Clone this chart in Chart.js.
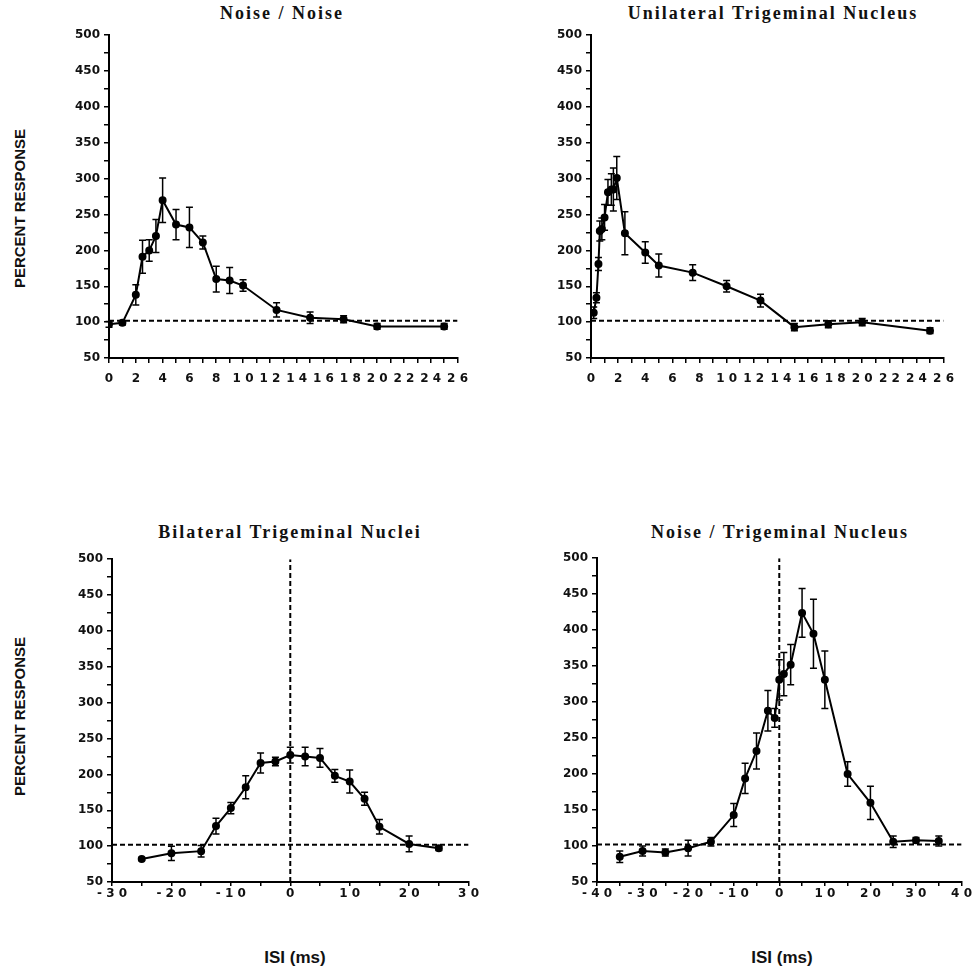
<!DOCTYPE html>
<html>
<head>
<meta charset="utf-8">
<script src="https://cdn.jsdelivr.net/npm/chart.js@4.4.1/dist/chart.umd.min.js"></script>
<style>
  body { margin: 0; background: #fff; width: 973px; height: 975px; overflow: hidden; position: relative; }
  canvas { position: absolute; }
  .ttl { position: absolute; width: 460px; text-align: center; font: bold 18px "Liberation Serif", serif; letter-spacing: 2px; color: #111; }
  .ylab { position: absolute; width: 200px; text-align: center; font: bold 15px "Liberation Sans", Arial, sans-serif; color: #111;
          transform: rotate(-90deg); transform-origin: center center; }
  .xlab { position: absolute; width: 200px; text-align: center; font: bold 17px "Liberation Sans", Arial, sans-serif; color: #111; }
</style>
</head>
<body>

<div class="ttl" style="left:52px;top:3px">Noise / Noise</div>
<div class="ttl" style="left:543px;top:3px">Unilateral Trigeminal Nucleus</div>
<div class="ttl" style="left:60px;top:522px">Bilateral Trigeminal Nuclei</div>
<div class="ttl" style="left:550px;top:522px">Noise / Trigeminal Nucleus</div>

<div class="ylab" style="left:-81px;top:200px">PERCENT RESPONSE</div>
<div class="ylab" style="left:-81px;top:708px">PERCENT RESPONSE</div>

<div class="xlab" style="left:195px;top:948px">ISI (ms)</div>
<div class="xlab" style="left:682px;top:948px">ISI (ms)</div>

<canvas id="c1"></canvas>
<canvas id="c2"></canvas>
<canvas id="c3"></canvas>
<canvas id="c4"></canvas>

<script>
// baseline (dashed reference line)
const baseline = 102;

// Noise / Noise
const nnX   = [0, 1, 2, 2.5, 3, 3.5, 4, 5, 6, 7, 8, 9, 10, 12.5, 15, 17.5, 20, 25];
const nnY   = [97, 99, 138, 191, 200, 220, 270, 236, 232, 211, 160, 158, 151, 117, 106, 104, 94, 94];
const nnErr = [4, 3, 14, 23, 15, 23, 31, 21, 28, 9, 18, 18, 8, 10, 8, 5, 4, 4];

// Unilateral Trigeminal Nucleus
const utX   = [0.2, 0.4, 0.55, 0.65, 0.8, 1.0, 1.25, 1.5, 1.65, 1.9, 2.5, 4, 5, 7.5, 10, 12.5, 15, 17.5, 20, 25];
const utY   = [113, 134, 181, 227, 230, 246, 281, 285, 285, 301, 224, 197, 179, 169, 150, 130, 93, 97, 100, 88];
const utErr = [8, 7, 9, 14, 15, 18, 18, 22, 30, 30, 30, 15, 16, 11, 8, 9, 5, 5, 5, 4];

// Bilateral Trigeminal Nuclei
const btX   = [-25, -20, -15, -12.5, -10, -7.5, -5, -2.5, 0, 2.5, 5, 7.5, 10, 12.5, 15, 20, 25];
const btY   = [82, 90, 93, 128, 153, 182, 216, 218, 227, 225, 223, 198, 190, 166, 127, 103, 97];
const btErr = [2, 10, 8, 11, 8, 16, 14, 6, 11, 13, 13, 9, 16, 9, 10, 11, 3];

// Noise / Trigeminal Nucleus
const ntX   = [-35, -30, -25, -20, -15, -10, -7.5, -5, -2.5, -1, 0, 1, 2.5, 5, 7.5, 10, 15, 20, 25, 30, 35];
const ntY   = [85, 93, 91, 97, 106, 143, 194, 232, 288, 278, 331, 339, 352, 424, 395, 331, 200, 160, 106, 108, 107];
const ntErr = [8, 7, 5, 11, 6, 16, 21, 25, 28, 13, 28, 30, 28, 34, 48, 40, 17, 23, 8, 4, 7];

const yTicks = { min: 50, max: 500, step: 25 };

const errorBars = {
  id: 'errorBars',
  afterDatasetsDraw(chart) {
    const ctx = chart.ctx, xs = chart.scales.x, ys = chart.scales.y;
    chart.data.datasets.forEach(ds => {
      if (!ds.errs) return;
      ctx.save();
      ctx.strokeStyle = '#000';
      ctx.lineWidth = 1.5;
      ds.data.forEach((p, i) => {
        const px = xs.getPixelForValue(p.x);
        const top = ys.getPixelForValue(p.y + ds.errs[i]);
        const bot = ys.getPixelForValue(p.y - ds.errs[i]);
        ctx.beginPath();
        ctx.moveTo(px, top); ctx.lineTo(px, bot);
        ctx.moveTo(px - 3.5, top); ctx.lineTo(px + 3.5, top);
        ctx.moveTo(px - 3.5, bot); ctx.lineTo(px + 3.5, bot);
        ctx.stroke();
      });
      ctx.restore();
    });
  }
};

function spaced(v) { return String(v).split('').join(' '); }

function makePanel(id, area, xs, ys, es, xr, showVert, lblPad, tickLen) {
  const padL = 49, padT = 10, padR = 10, xH = 30;
  const cv = document.getElementById(id);
  cv.width = area.r - area.l + padL + padR;
  cv.height = area.b - area.t + padT + xH;
  cv.style.left = (area.l - padL) + 'px';
  cv.style.top = (area.t - padT) + 'px';

  const datasets = [{
    data: [{x: xr.min, y: baseline}, {x: xr.max, y: baseline}],
    borderColor: '#000', borderWidth: 2, borderDash: [5, 3], pointRadius: 0
  }];
  if (showVert) {
    datasets.push({
      data: [{x: 0, y: yTicks.min}, {x: 0, y: yTicks.max}],
      borderColor: '#000', borderWidth: 2, borderDash: [5, 3], pointRadius: 0
    });
  }
  datasets.push({
    data: xs.map((x, i) => ({x: x, y: ys[i]})),
    errs: es,
    borderColor: '#000', borderWidth: 2,
    pointRadius: 3, pointBackgroundColor: '#000', pointBorderColor: '#000'
  });

  new Chart(cv, {
    type: 'line',
    data: { datasets: datasets },
    options: {
      responsive: false, animation: false, devicePixelRatio: 1,
      layout: { padding: { left: 0, top: padT, right: padR, bottom: 0 } },
      plugins: { legend: { display: false }, tooltip: { enabled: false } },
      scales: {
        x: {
          type: 'linear', min: xr.min, max: xr.max,
          afterFit: s => { s.height = xH; },
          border: { color: '#000', width: 2 },
          grid: { drawOnChartArea: false, drawTicks: true, tickLength: tickLen, color: '#000', lineWidth: 1.5 },
          ticks: {
            stepSize: xr.step, autoSkip: false, maxRotation: 0, padding: lblPad, color: '#111',
            font: { family: 'DejaVu Sans', weight: 'bold', size: 12 },
            callback: v => (v % xr.label === 0 ? spaced(v) : '')
          }
        },
        y: {
          min: yTicks.min, max: yTicks.max,
          afterFit: s => { s.width = padL; },
          border: { color: '#000', width: 2 },
          grid: { drawOnChartArea: false, drawTicks: true, tickLength: 5, color: '#000', lineWidth: 1.5 },
          ticks: {
            stepSize: yTicks.step, autoSkip: false, padding: 4, color: '#111',
            font: { family: 'DejaVu Sans', weight: 'bold', size: 12 },
            callback: v => (v % 50 === 0 ? String(v) : '')
          }
        }
      }
    },
    plugins: [errorBars]
  });
}

makePanel('c1', {l: 109, t: 34, r: 467, b: 358}, nnX, nnY, nnErr, {min: 0, max: 26, step: 1, label: 2}, false, 9, 5);
makePanel('c2', {l: 591, t: 34, r: 953, b: 358}, utX, utY, utErr, {min: 0, max: 26, step: 1, label: 2}, false, 9, 5);
makePanel('c3', {l: 112, t: 558, r: 470, b: 882}, btX, btY, btErr, {min: -30, max: 30, step: 5, label: 10}, true, 1, 4);
makePanel('c4', {l: 597, t: 557, r: 963, b: 882}, ntX, ntY, ntErr, {min: -40, max: 40, step: 5, label: 10}, true, 1, 4);
</script>
</body>
</html>
